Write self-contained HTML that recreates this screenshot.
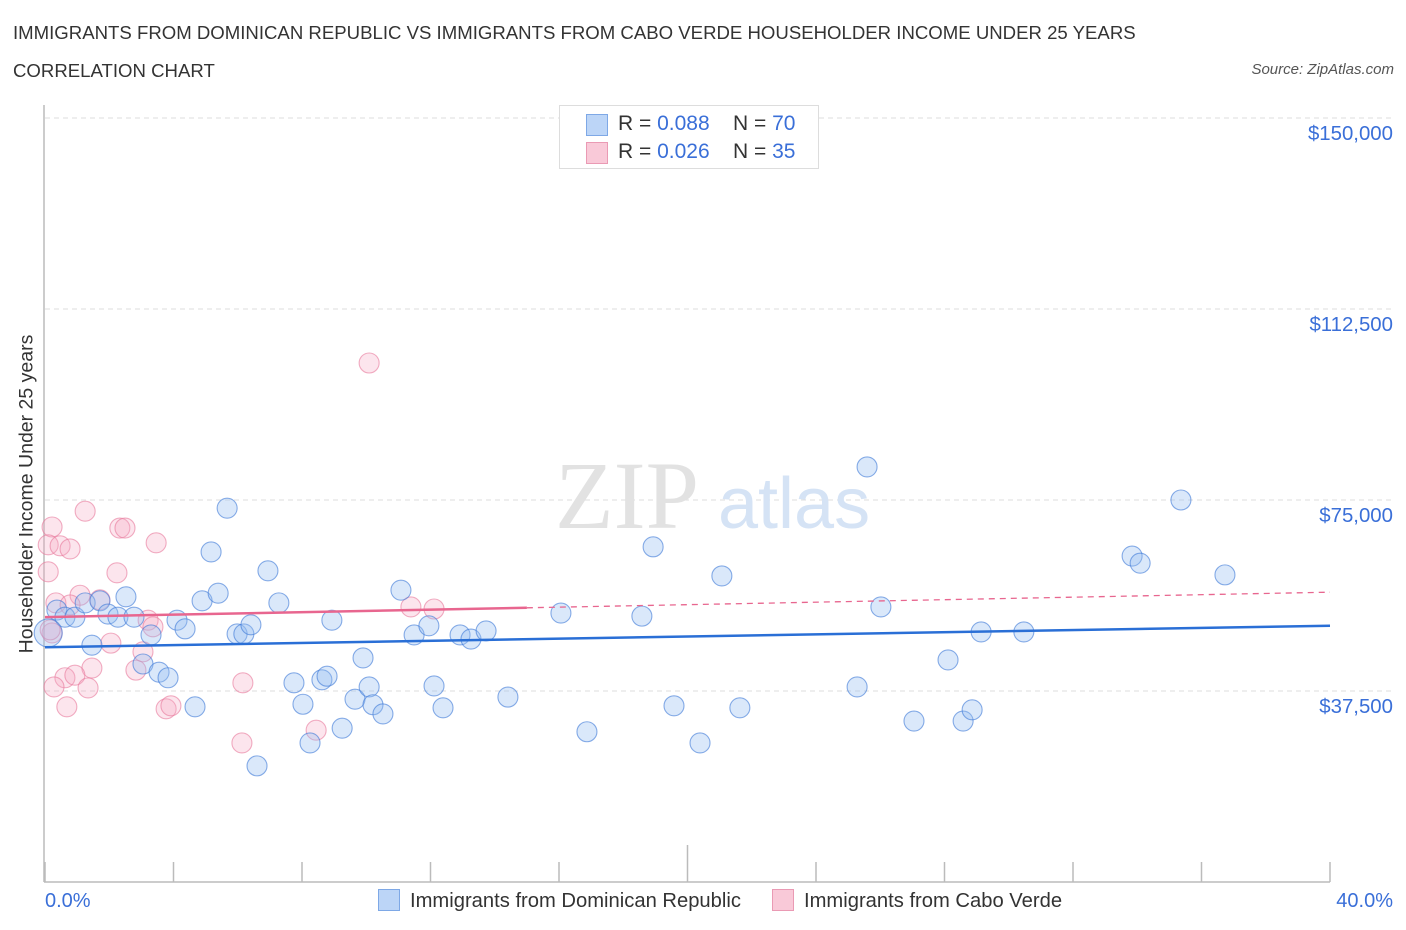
<!DOCTYPE html>
<html><head><meta charset="utf-8">
<style>
body{margin:0;background:#fff;font-family:"Liberation Sans",sans-serif;}
#wrap{position:relative;width:1406px;height:930px;overflow:hidden;}
.t{position:absolute;white-space:nowrap;}
</style></head>
<body>
<div id="wrap">
<div class="t" style="left:13px;top:22px;font-size:18.6px;color:#333;">IMMIGRANTS FROM DOMINICAN REPUBLIC VS IMMIGRANTS FROM CABO VERDE HOUSEHOLDER INCOME UNDER 25 YEARS</div>
<div class="t" style="left:13px;top:60px;font-size:18.6px;color:#333;">CORRELATION CHART</div>
<div class="t" style="right:12px;top:61px;font-size:15px;color:#555;font-style:italic;">Source: ZipAtlas.com</div>
<svg id="chart" width="1406" height="930" style="position:absolute;left:0;top:0;"></svg>
</div>
<script>
const blueX=[0.37,0.62,0.93,1.25,1.46,1.71,1.96,2.27,2.52,2.77,3.05,3.30,3.55,3.83,4.11,4.36,4.67,4.89,5.17,5.39,5.67,5.98,6.19,6.41,6.94,7.28,7.75,8.03,8.25,8.62,8.78,8.93,9.25,9.65,9.90,10.09,10.21,10.52,11.08,11.49,11.95,12.11,12.39,12.92,13.26,13.73,14.41,16.06,16.87,18.58,18.93,19.58,20.39,21.07,21.63,25.28,25.59,26.02,27.05,28.11,28.58,28.86,29.14,30.47,33.84,34.09,35.36,36.73,6.60,0.1];
const blueY=[53.4,52.0,52.0,54.8,46.5,55.2,52.6,52.0,56.0,52.0,42.8,48.5,41.2,40.1,51.4,49.7,34.4,55.2,64.8,56.7,73.4,48.7,48.7,50.5,61.1,54.8,39.1,34.9,27.3,39.7,40.4,51.4,30.2,35.9,44.0,38.3,34.8,33.0,57.3,48.5,50.3,38.5,34.2,48.5,47.7,49.3,36.3,52.8,29.5,52.2,65.8,34.6,27.3,60.1,34.2,38.3,81.5,54.0,31.6,43.6,31.6,33.8,49.1,49.1,64.0,62.6,75.0,60.3,22.8,48.9];
const pinkX=[0.22,0.1,0.47,0.78,0.1,1.25,2.33,2.49,3.46,2.24,0.34,1.09,0.78,1.71,0.22,3.21,3.36,2.05,3.05,1.46,2.83,0.62,0.93,0.28,1.34,0.68,3.77,3.92,6.16,6.13,8.44,10.09,11.39,12.11,0.16];
const pinkY=[69.7,66.2,66.0,65.4,60.9,72.8,69.5,69.5,66.6,60.7,54.8,56.3,54.4,55.4,48.9,51.4,50.1,46.9,45.2,42.0,41.6,40.1,40.6,38.3,38.1,34.4,34.0,34.6,39.1,27.3,29.8,101.9,54.0,53.6,49.5];
const blueTrend=[46.1,50.3];
const pinkTrend=[52.0,56.9];
const yTicks=[37500,75000,112500,150000];
const yTickLabels=["$37,500","$75,000","$112,500","$150,000"];

const NS="http://www.w3.org/2000/svg";
const svg=document.getElementById('chart');
const X=p=>45+p*32.125;
const Y=k=>882-k*1000/37500*191;
function mk(tag,attrs,parent){const e=document.createElementNS(NS,tag);for(const k in attrs)e.setAttribute(k,attrs[k]);(parent||svg).appendChild(e);return e;}

yTicks.forEach((v,i)=>{
  const g=mk('line',{x1:45,x2:1393,y1:Y(v/1000),y2:Y(v/1000),stroke:'#ddd','stroke-dasharray':'5,4'});
  
  
  const t=mk('text',{x:1393,y:Y(v/1000)+22,'text-anchor':'end','font-size':20.4,fill:'#3a6fd8','font-family':'Liberation Sans'});
  t.textContent=yTickLabels[i];
  
  
});
const wm=mk('text',{x:555,y:528,'font-size':96,fill:'#e2e2e2','font-family':'Liberation Serif'});wm.textContent='ZIP';


const wm2=mk('text',{x:718,y:528,'font-size':72,fill:'#d5e3f5','font-family':'Liberation Sans'});wm2.textContent='atlas';


const ya=mk('line',{x1:44,x2:44,y1:105,y2:882,stroke:'#bbb','stroke-width':1.5});


const xa=mk('line',{x1:44,x2:1330,y1:882,y2:882,stroke:'#bbb','stroke-width':1.5});


for(let i=0;i<=10;i++){
  const x=X(i*4);
  const tk=mk('line',{x1:x,x2:x,y1:i==5?845:862,y2:882,stroke:'#bbb','stroke-width':1.5});
  
  
}
function pts(xs,ys,fill,stroke,name){
  xs.forEach((p,i)=>{
    const r=(name==='blue-point'&&i===xs.length-1)?14:10;
    const c=mk('circle',{cx:X(p),cy:Y(ys[i]),r:r,fill:fill,stroke:stroke,'stroke-width':1.1});
    
    
  });
}
pts(pinkX,pinkY,'rgba(246,170,195,0.3)','rgba(232,120,155,0.6)','pink-point');
pts(blueX,blueY,'rgba(150,190,240,0.35)','rgba(60,120,215,0.6)','blue-point');
const bl=mk('line',{x1:X(0),x2:X(40),y1:Y(blueTrend[0]),y2:Y(blueTrend[1]),stroke:'#2a6fd6','stroke-width':2.5});


const pe=pinkTrend[0]+(pinkTrend[1]-pinkTrend[0])*15/40;
const pl=mk('line',{x1:X(0),x2:X(15),y1:Y(pinkTrend[0]),y2:Y(pe),stroke:'#e8668f','stroke-width':2.5});


const pd=mk('line',{x1:X(15),x2:X(40),y1:Y(pe),y2:Y(pinkTrend[1]),stroke:'#e8668f','stroke-width':1.3,'stroke-dasharray':'6,5'});


</script>
<div class="t" style="left:27px;top:494px;font-size:19.5px;color:#333;transform:translate(-50%,-50%) rotate(-90deg);">Householder Income Under 25 years</div>
<div class="t" style="left:45px;top:890px;font-size:20px;color:#3a6fd8;">0.0%</div>
<div class="t" style="right:13px;top:890px;font-size:20px;color:#3a6fd8;">40.0%</div>
<div style="position:absolute;left:559px;top:105px;width:258px;height:62px;border:1px solid #ddd;background:#fff;font-size:21px;color:#333;">
 <div style="position:absolute;left:26px;top:8px;width:20px;height:20px;background:#bcd5f7;border:1px solid #7ea8e6;"></div>
 <div class="t" style="left:58px;top:6px;">R = <span style="color:#3a6fd8">0.088</span>&nbsp;&nbsp;&nbsp; N = <span style="color:#3a6fd8">70</span></div>
 <div style="position:absolute;left:26px;top:36px;width:20px;height:20px;background:#f9c9d8;border:1px solid #ea9ab4;"></div>
 <div class="t" style="left:58px;top:34px;">R = <span style="color:#3a6fd8">0.026</span>&nbsp;&nbsp;&nbsp; N = <span style="color:#3a6fd8">35</span></div>
</div>
<div style="position:absolute;left:378px;top:889px;font-size:20.2px;color:#333;">
 <span style="display:inline-block;width:20px;height:20px;background:#bcd5f7;border:1px solid #7ea8e6;vertical-align:-4px;margin-right:10px;"></span>Immigrants from Dominican Republic</div>
<div style="position:absolute;left:772px;top:889px;font-size:20.2px;color:#333;">
 <span style="display:inline-block;width:20px;height:20px;background:#f9c9d8;border:1px solid #ea9ab4;vertical-align:-4px;margin-right:10px;"></span>Immigrants from Cabo Verde</div>
</body></html>
